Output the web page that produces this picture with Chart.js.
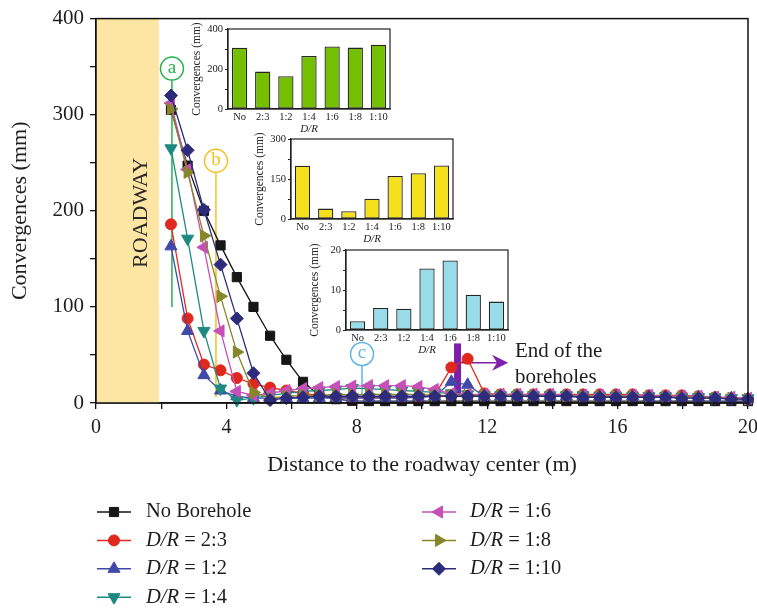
<!DOCTYPE html>
<html>
<head>
<meta charset="utf-8">
<script src="https://cdn.jsdelivr.net/npm/chart.js@4.4.1/dist/chart.umd.min.js"></script>
<style>
body { margin: 0; background: #fff; }
#wrap { position: relative; width: 757px; height: 610px; }
canvas { position: absolute; }
</style>
</head>
<body>
<div id="wrap">
  <canvas id="main" width="757" height="610" style="left:0;top:0"></canvas>
  <canvas id="insetA" width="230" height="122" style="left:178px;top:15px"></canvas>
  <canvas id="insetB" width="230" height="122" style="left:241px;top:125px"></canvas>
  <canvas id="insetC" width="230" height="122" style="left:296px;top:236px"></canvas>
</div>
<script>
// distance to roadway center (m)
var distance = [2.30, 2.81, 3.31, 3.82, 4.32, 4.83, 5.34, 5.84, 6.35, 6.85, 7.36, 7.86,
  8.37, 8.87, 9.38, 9.89, 10.39, 10.90, 11.40, 11.91, 12.41, 12.92, 13.42, 13.93,
  14.43, 14.94, 15.45, 15.95, 16.46, 16.96, 17.47, 17.97, 18.48, 18.99, 19.49, 20.00];

// convergences (mm)
var noBorehole = [305, 247, 200, 164, 131, 100, 70, 45, 22, 8, 4, 2.3,
  2, 2, 2, 2, 2, 2, 2, 2, 2, 2, 2, 2, 2, 2, 2, 2, 2, 2, 2, 2, 2, 2, 2, 2];
var dr23 = [186, 88, 40, 34, 26, 20, 16, 13, 10, 8, 6, 5.7,
  6, 6, 6, 6, 8, 37, 46, 10, 9, 9, 9, 9, 9, 9, 9, 9, 9, 8, 8, 8, 7, 6, 5, 4];
var dr12 = [163, 75, 29, 13, 7, 5, 5, 5, 5, 5, 5, 5.4,
  5, 5, 5, 6, 7, 22, 19, 7, 7, 7, 7, 7, 7, 7, 7, 7, 7, 6, 6, 6, 6, 5, 5, 4];
var dr14 = [265, 171, 75, 15, 3, 5, 8, 10, 12, 13, 14, 15.5,
  15, 14, 13, 12, 11, 10, 9, 8, 8, 8, 8, 8, 8, 8, 7, 7, 7, 7, 7, 6, 6, 6, 5, 5];
var dr16 = [312, 243, 162, 75, 12, 8, 10, 13, 15, 16, 17, 17.6,
  18, 18, 18, 17, 14, 10, 9, 9, 9, 9, 9, 9, 8, 8, 8, 8, 8, 8, 7, 7, 7, 6, 6, 5];
var dr18 = [306, 240, 174, 111, 53, 11, 5, 7, 8, 8, 9, 8.8,
  9, 9, 9, 9, 8, 8, 8, 8, 8, 8, 8, 7, 7, 7, 7, 7, 7, 6, 6, 6, 6, 5, 5, 4];
var dr110 = [320, 263, 201, 144, 88, 31, 3, 5, 6, 7, 7, 7.2,
  7, 7, 7, 7, 7, 7, 7, 7, 7, 7, 7, 7, 7, 6, 6, 6, 6, 6, 6, 5, 5, 5, 4, 4];

var ratioLabels = ['No', '2:3', '1:2', '1:4', '1:6', '1:8', '1:10'];
var seriesNames = ['No Borehole', '2:3', '1:2', '1:4', '1:6', '1:8', '1:10'];
var seriesValues = [noBorehole, dr23, dr12, dr14, dr16, dr18, dr110];
var seriesColors = ['#161616', '#E0281E', '#4049A8', '#1E8981', '#C64FB8', '#878629', '#2C2B7C'];
var seriesStyles = ['rect', 'circle', 'triangle', 'triangle', 'triangle', 'triangle', 'rectRot'];
var seriesRotation = [0, 0, 0, 180, 270, 90, 0];
var seriesRadius = [6.5, 5.5, 7, 7, 7, 7, 6.5];

// inset bar values (mm) at sections a, b, c
var insetA = [306, 187, 164, 265, 313, 307, 321];
var insetB = [200, 39, 29, 76, 161, 172, 201];
var insetC = [2.2, 5.5, 5.3, 15.4, 17.4, 8.8, 7.1];

var roadwayEdge = 1.93;
var callouts = [
  { label: 'a', x: 2.33, at: 348, to: 100, color: '#22B24C' },
  { label: 'b', x: 3.68, at: 252, to: 6, color: '#F5BF20' },
  { label: 'c', x: 8.16, at: 51, to: 8, color: '#5DB6E6' }
];

var serif = "'Liberation Serif', 'Times New Roman', serif";

var roadwayPlugin = {
  id: 'roadway',
  beforeDatasetsDraw: function (chart) {
    var ctx = chart.ctx, x = chart.scales.x, y = chart.scales.y;
    var a = chart.chartArea;
    ctx.save();
    ctx.fillStyle = '#FDE5A3';
    ctx.fillRect(a.left, a.top, x.getPixelForValue(roadwayEdge) - a.left, a.bottom - a.top);
    ctx.translate(x.getPixelForValue(1.38), y.getPixelForValue(198));
    ctx.rotate(-Math.PI / 2);
    ctx.fillStyle = '#2a2a2a';
    ctx.font = '22px ' + serif;
    ctx.textAlign = 'center';
    ctx.textBaseline = 'middle';
    ctx.fillText('ROADWAY', 0, 0);
    ctx.restore();

    // callout stems
    ctx.save();
    ctx.lineWidth = 1.5;
    callouts.forEach(function (c) {
      var px = x.getPixelForValue(c.x);
      ctx.strokeStyle = c.color;
      ctx.beginPath();
      ctx.moveTo(px, y.getPixelForValue(c.at) + 12);
      ctx.lineTo(px, y.getPixelForValue(c.to));
      ctx.stroke();
    });

    // end of the boreholes marker
    var bx = x.getPixelForValue(11.09);
    ctx.fillStyle = '#7E1FAA';
    ctx.fillRect(bx - 3.5, y.getPixelForValue(62), 7, y.getPixelForValue(8) - y.getPixelForValue(62));
    var ay = y.getPixelForValue(42);
    var tip = x.getPixelForValue(12.64);
    ctx.strokeStyle = '#7E1FAA';
    ctx.lineWidth = 1.5;
    ctx.beginPath();
    ctx.moveTo(bx, ay);
    ctx.lineTo(tip - 8, ay);
    ctx.stroke();
    ctx.beginPath();
    ctx.moveTo(tip, ay);
    ctx.lineTo(tip - 16, ay - 8);
    ctx.lineTo(tip - 11, ay);
    ctx.lineTo(tip - 16, ay + 8);
    ctx.closePath();
    ctx.fill();
    ctx.restore();
  },
  afterDatasetsDraw: function (chart) {
    var ctx = chart.ctx, x = chart.scales.x, y = chart.scales.y;
    ctx.save();
    callouts.forEach(function (c) {
      var px = x.getPixelForValue(c.x), py = y.getPixelForValue(c.at);
      ctx.fillStyle = '#fff';
      ctx.strokeStyle = c.color;
      ctx.lineWidth = 1.5;
      ctx.beginPath();
      ctx.arc(px, py, 11.5, 0, Math.PI * 2);
      ctx.fill();
      ctx.stroke();
      ctx.fillStyle = c.color;
      ctx.font = '19px ' + serif;
      ctx.textAlign = 'center';
      ctx.textBaseline = 'middle';
      ctx.fillText(c.label, px, py - 1);
    });
    ctx.fillStyle = '#1e1e1e';
    ctx.font = '21px ' + serif;
    ctx.textAlign = 'left';
    ctx.textBaseline = 'middle';
    ctx.fillText('End of the', x.getPixelForValue(12.85), y.getPixelForValue(54));
    ctx.fillText('boreholes', x.getPixelForValue(12.85), y.getPixelForValue(27));
    ctx.restore();
  }
};

var framePlugin = {
  id: 'frame',
  afterDraw: function (chart) {
    var a = chart.chartArea, ctx = chart.ctx;
    ctx.save();
    ctx.strokeStyle = '#111';
    ctx.lineWidth = 1.5;
    ctx.strokeRect(a.left, a.top, a.right - a.left, a.bottom - a.top);
    ctx.restore();
  }
};

var legendPlugin = {
  id: 'twoColLegend',
  afterDraw: function (chart) {
    var ctx = chart.ctx;
    ctx.save();
    chart.data.datasets.forEach(function (ds, i) {
      var col = i < 4 ? 0 : 1;
      var row = i < 4 ? i : i - 4;
      var x0 = col ? 422 : 97;
      var ly = 512 + row * 28.4;
      ctx.strokeStyle = ds.borderColor;
      ctx.lineWidth = 1.5;
      ctx.beginPath();
      ctx.moveTo(x0, ly);
      ctx.lineTo(x0 + 34, ly);
      ctx.stroke();
      ctx.fillStyle = ds.pointBackgroundColor;
      ctx.strokeStyle = ds.pointBorderColor;
      ctx.lineWidth = 1;
      Chart.helpers.drawPoint(ctx, {
        pointStyle: ds.pointStyle, radius: ds.pointRadius, rotation: ds.pointRotation, borderWidth: 1
      }, x0 + 17, ly);
      ctx.fillStyle = '#1e1e1e';
      ctx.textBaseline = 'middle';
      ctx.textAlign = 'left';
      var tx = x0 + (col ? 48 : 49);
      if (i === 0) {
        ctx.font = '20.5px ' + serif;
        ctx.fillText(seriesNames[i], tx, ly);
      } else {
        ctx.font = 'italic 20.5px ' + serif;
        ctx.fillText('D/R', tx, ly);
        var w = ctx.measureText('D/R').width;
        ctx.font = '20.5px ' + serif;
        ctx.fillText(' = ' + seriesNames[i], tx + w, ly);
      }
    });
    ctx.restore();
  }
};

var datasets = seriesValues.map(function (vals, i) {
  return {
    label: seriesNames[i],
    data: vals.map(function (v, k) { return { x: distance[k], y: v }; }),
    borderColor: seriesColors[i],
    backgroundColor: seriesColors[i],
    pointBackgroundColor: seriesColors[i],
    pointBorderColor: seriesColors[i],
    borderWidth: 1.3,
    pointStyle: seriesStyles[i],
    pointRotation: seriesRotation[i],
    pointRadius: seriesRadius[i],
    pointBorderWidth: 1,
    tension: 0,
    order: 6 - i,
    clip: 6
  };
});

new Chart(document.getElementById('main'), {
  type: 'line',
  data: { datasets: datasets },
  options: {
    responsive: false,
    animation: false,
    devicePixelRatio: 1,
    layout: { padding: { left: 0, right: 9, top: 14, bottom: 127 } },
    scales: {
      x: {
        type: 'linear', min: 0, max: 20,
        grid: { drawOnChartArea: false, drawTicks: true, tickLength: 6, color: '#111', lineWidth: 1.3 },
        border: { color: '#111', width: 1.5 },
        ticks: {
          stepSize: 2, autoSkip: false, maxRotation: 0, padding: 7, color: '#1e1e1e',
          font: { family: serif, size: 20 },
          callback: function (v) { return v % 4 === 0 ? v : ''; }
        },
        title: {
          display: true, text: 'Distance to the roadway center (m)', color: '#1e1e1e',
          font: { family: serif, size: 22 }, padding: { top: 0, bottom: 5 }
        },
        afterFit: function (s) { s.height = 80; s.paddingLeft = 0; s.paddingRight = 0; }
      },
      y: {
        min: 0, max: 400,
        grid: { drawOnChartArea: false, drawTicks: true, tickLength: 6, color: '#111', lineWidth: 1.3 },
        border: { color: '#111', width: 1.5 },
        ticks: {
          stepSize: 50, autoSkip: false, padding: 6, color: '#1e1e1e',
          font: { family: serif, size: 21 },
          callback: function (v) { return v % 100 === 0 ? v : ''; }
        },
        title: {
          display: true, text: 'Convergences (mm)', color: '#1e1e1e',
          font: { family: serif, size: 22 }, padding: { top: 7, bottom: 0 }
        },
        afterFit: function (s) { s.width = 96; }
      }
    },
    plugins: { legend: { display: false }, tooltip: { enabled: false } }
  },
  plugins: [roadwayPlugin, framePlugin, legendPlugin]
});

var insetFrame = {
  id: 'insetFrame',
  beforeDraw: function (chart) {
    var a = chart.chartArea, ctx = chart.ctx;
    ctx.save();
    ctx.fillStyle = '#fff';
    ctx.fillRect(a.left, a.top, a.right - a.left, a.bottom - a.top);
    ctx.restore();
  },
  afterDraw: function (chart) {
    var a = chart.chartArea, ctx = chart.ctx;
    ctx.save();
    ctx.strokeStyle = '#222';
    ctx.lineWidth = 1.2;
    ctx.strokeRect(a.left, a.top, a.right - a.left, a.bottom - a.top);
    ctx.restore();
  }
};

function makeInset(id, values, fill, yMax, yStep) {
  return new Chart(document.getElementById(id), {
    type: 'bar',
    data: {
      labels: ratioLabels,
      datasets: [{
        data: values, backgroundColor: fill, borderColor: '#262626', borderWidth: 1.3,
        borderSkipped: false, categoryPercentage: 0.66, barPercentage: 1
      }]
    },
    options: {
      responsive: false,
      animation: false,
      devicePixelRatio: 1,
      layout: { padding: { left: 0, right: 18, top: 14, bottom: 0 } },
      scales: {
        x: {
          grid: { display: false, drawTicks: false, tickLength: 0 },
          border: { color: '#222', width: 1.2 },
          ticks: { color: '#222', padding: 2, maxRotation: 0, autoSkip: false, font: { family: serif, size: 10.5 } },
          title: {
            display: true, text: 'D/R', color: '#222',
            font: { family: serif, size: 11, style: 'italic' }, padding: { top: 0, bottom: 1 }
          },
          afterFit: function (s) { s.height = 28; }
        },
        y: {
          min: 0, max: yMax,
          grid: { drawOnChartArea: false, drawTicks: true, tickLength: 3, color: '#222' },
          border: { color: '#222', width: 1.2 },
          ticks: {
            stepSize: yStep / 2, autoSkip: false, padding: 2, color: '#222',
            font: { family: serif, size: 10.5 },
            callback: function (v) { return v % yStep === 0 ? v : ''; }
          },
          title: {
            display: true, text: 'Convergences (mm)', color: '#222',
            font: { family: serif, size: 11.5 }, padding: { top: 12, bottom: 0 }
          },
          afterFit: function (s) { s.width = 50; }
        }
      },
      plugins: { legend: { display: false }, tooltip: { enabled: false } }
    },
    plugins: [insetFrame]
  });
}

makeInset('insetA', insetA, '#73BF00', 400, 200);
makeInset('insetB', insetB, '#F4E11C', 300, 150);
makeInset('insetC', insetC, '#97DCE8', 20, 10);
</script>
</body>
</html>
